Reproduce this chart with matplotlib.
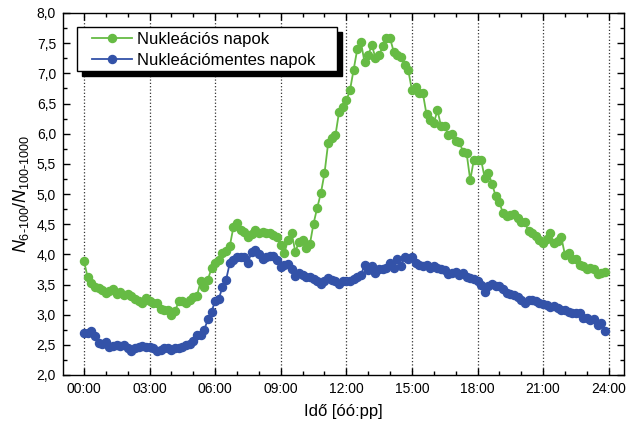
import numpy as np
import matplotlib
matplotlib.use("Agg")
import matplotlib.pyplot as plt
from matplotlib.patches import Rectangle
from matplotlib.ticker import MultipleLocator, FuncFormatter

plt.rcParams['font.family'] = ['Liberation Sans', 'DejaVu Sans']
plt.rcParams['mathtext.fontset'] = 'custom'
plt.rcParams['mathtext.rm'] = 'Liberation Sans'
plt.rcParams['mathtext.it'] = 'Liberation Sans:italic'

# 10 perces atlagok, 00:00 ... 23:50 (6 ertek / ora)
nucl_days = [
    3.89, 3.62, 3.52, 3.46, 3.45, 3.41,
    3.36, 3.40, 3.43, 3.35, 3.38, 3.33,
    3.34, 3.31, 3.26, 3.23, 3.19, 3.27,
    3.22, 3.20, 3.20, 3.10, 3.08, 3.08,
    2.99, 3.06, 3.22, 3.23, 3.19, 3.25,
    3.29, 3.31, 3.55, 3.46, 3.58, 3.77,
    3.85, 3.91, 4.02, 4.05, 4.13, 4.45,
    4.52, 4.41, 4.37, 4.29, 4.33, 4.40,
    4.35, 4.37, 4.36, 4.36, 4.32, 4.28,
    4.15, 4.02, 4.24, 4.35, 4.04, 4.21,
    4.24, 4.10, 4.17, 4.51, 4.77, 5.01,
    5.34, 5.84, 5.92, 5.97, 6.36, 6.44,
    6.55, 6.72, 7.06, 7.40, 7.52, 7.18,
    7.30, 7.47, 7.25, 7.30, 7.45, 7.58,
    7.58, 7.36, 7.30, 7.27, 7.14, 7.05,
    6.72, 6.78, 6.67, 6.67, 6.32, 6.23,
    6.17, 6.39, 6.12, 6.12, 5.98, 5.99,
    5.88, 5.87, 5.70, 5.68, 5.23, 5.57,
    5.57, 5.56, 5.26, 5.34, 5.17, 4.96,
    4.86, 4.68, 4.63, 4.65, 4.67, 4.60,
    4.54, 4.53, 4.38, 4.35, 4.30, 4.24,
    4.18, 4.26, 4.35, 4.18, 4.22, 4.28,
    3.99, 4.02, 3.93, 3.93, 3.82, 3.80,
    3.75, 3.77, 3.75, 3.67, 3.69, 3.71,
]

non_nucl_days = [
    2.70, 2.69, 2.73, 2.64, 2.53, 2.52,
    2.55, 2.46, 2.48, 2.50, 2.48, 2.50,
    2.44, 2.40, 2.45, 2.47, 2.48, 2.47,
    2.46, 2.44, 2.39, 2.41, 2.44, 2.44,
    2.42, 2.44, 2.44, 2.47, 2.50, 2.52,
    2.56, 2.66, 2.66, 2.75, 2.92, 3.05,
    3.23, 3.26, 3.46, 3.58, 3.85, 3.90,
    3.96, 3.95, 3.96, 3.86, 4.04, 4.07,
    4.00, 3.93, 3.95, 3.97, 3.97, 3.90,
    3.79, 3.82, 3.84, 3.75, 3.64, 3.69,
    3.66, 3.63, 3.62, 3.59, 3.55, 3.51,
    3.55, 3.60, 3.58, 3.55, 3.51, 3.55,
    3.55, 3.55, 3.59, 3.63, 3.66, 3.82,
    3.74, 3.80, 3.69, 3.75, 3.75, 3.77,
    3.86, 3.77, 3.93, 3.80, 3.96, 3.93,
    3.95, 3.86, 3.82, 3.80, 3.82, 3.78,
    3.80, 3.77, 3.75, 3.74, 3.67, 3.69,
    3.71, 3.66, 3.69, 3.63, 3.60, 3.59,
    3.55, 3.49, 3.38, 3.47, 3.51, 3.48,
    3.47, 3.42, 3.36, 3.34, 3.33, 3.30,
    3.24, 3.19, 3.25, 3.24, 3.23, 3.20,
    3.18, 3.16, 3.13, 3.14, 3.11, 3.08,
    3.07, 3.04, 3.02, 3.02, 3.02, 2.94,
    2.94, 2.91, 2.92, 2.83, 2.86, 2.73,
]

hours = np.arange(len(nucl_days)) / 6.0

x_ticks = [0, 3, 6, 9, 12, 15, 18, 21, 24]
x_labels = ['00:00', '03:00', '06:00', '09:00', '12:00', '15:00', '18:00', '21:00', '24:00']

green = '#66bb44'
blue = '#3352a8'

W, H = 627, 425
fig = plt.figure(figsize=(W / 100, H / 100), dpi=100)
ax = fig.add_axes([63 / W, 50 / H, 561 / W, 362 / H])

ax.plot(hours, nucl_days, '-o', color=green, lw=1.3, ms=5.8, label='Nukleációs napok')
ax.plot(hours, non_nucl_days, '-o', color=blue, lw=1.3, ms=5.8, label='Nukleációmentes napok')

ax.set_xlim(-0.96, 24.7)
ax.set_ylim(2.0, 8.0)
ax.set_xticks(x_ticks)
ax.set_xticklabels(x_labels)
ax.xaxis.set_minor_locator(MultipleLocator(1))
ax.yaxis.set_major_locator(MultipleLocator(0.5))
ax.yaxis.set_minor_locator(MultipleLocator(0.25))
ax.yaxis.set_major_formatter(FuncFormatter(lambda v, p: f'{v:.1f}'.replace('.', ',')))

ax.grid(axis='x', which='major', linestyle=':', color='#333333', lw=0.9)
ax.set_axisbelow(True)
ax.tick_params(which='both', direction='in', top=True, right=True, width=1, labelsize=10)
ax.tick_params(which='major', length=5, pad=5)
ax.tick_params(which='minor', length=3)
for s in ax.spines.values():
    s.set_linewidth(1.0)

ax.set_xlabel('Idő [óó:pp]', fontsize=12, labelpad=6)
ax.set_ylabel('$\\mathit{N}_{\\mathrm{6\u2010100}}/\\mathit{N}_{\\mathrm{100\u20101000}}$',
              fontsize=13, labelpad=4)


# legend with black offset shadow
def to_ax(px, py):
    return (px - 63) / 561, (375 - py) / 362


x0, y0 = to_ax(77, 71)
x1, y1 = to_ax(337, 27)
sdx, sdy = 5 / 561, 5 / 362
ax.add_patch(Rectangle((x0 + sdx, y0 - sdy), x1 - x0, y1 - y0, transform=ax.transAxes,
                       facecolor='black', edgecolor='black', clip_on=False, zorder=6))
ax.add_patch(Rectangle((x0, y0), x1 - x0, y1 - y0, transform=ax.transAxes,
                       facecolor='white', edgecolor='black', lw=1.0, clip_on=False, zorder=6.5))
leg = ax.legend(loc='upper left', bbox_to_anchor=to_ax(92, 32), borderaxespad=0, borderpad=0,
                frameon=False, fontsize=12, handlelength=2.4, handletextpad=0.3, labelspacing=0.35)
leg.set_zorder(7)

fig.savefig('out.png', dpi=100)
